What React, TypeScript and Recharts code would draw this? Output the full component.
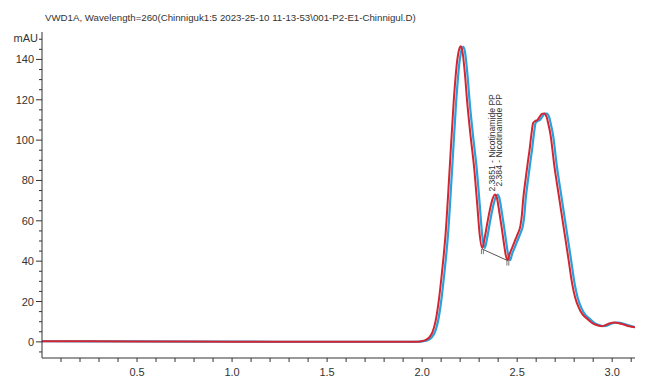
import React from "react";
import { LineChart, Line, XAxis, YAxis, ReferenceLine, ReferenceDot } from "recharts";

const TITLE = "VWD1A, Wavelength=260(Chinniguk1:5 2023-25-10 11-13-53\\001-P2-E1-Chinnigul.D)";
const Y_UNIT = "mAU";
const PEAK_LABEL_1 = "2.3851 - Nicotinamide PP";
const PEAK_LABEL_2 = "2.384 - Nicotinamide PP";
const PEAK_TIME_1 = 2.3851;
const PEAK_TIME_2 = 2.384;
const PEAK_HEIGHT = 73;
const VALLEY_START = { t: 2.316, v: 46 };
const VALLEY_END = { t: 2.45, v: 40.3 };

const xTicks = [0.1, 0.2, 0.3, 0.4, 0.5, 0.6, 0.7, 0.8, 0.9, 1.0, 1.1, 1.2, 1.3, 1.4, 1.5, 1.6, 1.7, 1.8, 1.9, 2.0, 2.1, 2.2, 2.3, 2.4, 2.5, 2.6, 2.7, 2.8, 2.9, 3.0, 3.1];
const yTicks = [-5, 0, 5, 10, 15, 20, 25, 30, 35, 40, 45, 50, 55, 60, 65, 70, 75, 80, 85, 90, 95, 100, 105, 110, 115, 120, 125, 130, 135, 140, 145, 150];

const redTrace = [
  { t: 0, v: 0.3 }, { t: 0.5, v: 0.2 }, { t: 1.0, v: 0.1 }, { t: 1.5, v: 0.0 }, { t: 1.9, v: 0.0 },
  { t: 1.98, v: 0.1 }, { t: 2.0, v: 0.4 }, { t: 2.02, v: 1.0 }, { t: 2.04, v: 2.5 }, { t: 2.055, v: 5 },
  { t: 2.07, v: 10 }, { t: 2.087, v: 20 }, { t: 2.105, v: 35 }, { t: 2.123, v: 53 }, { t: 2.145, v: 86 },
  { t: 2.166, v: 119 }, { t: 2.184, v: 139 }, { t: 2.195, v: 145 }, { t: 2.203, v: 146.5 }, { t: 2.212, v: 144 },
  { t: 2.225, v: 133 }, { t: 2.237, v: 119 }, { t: 2.255, v: 102 }, { t: 2.274, v: 86 }, { t: 2.29, v: 68 },
  { t: 2.303, v: 53 }, { t: 2.316, v: 46.5 }, { t: 2.33, v: 52 }, { t: 2.345, v: 60 }, { t: 2.36, v: 67 },
  { t: 2.373, v: 71.5 }, { t: 2.383, v: 73 }, { t: 2.393, v: 71.5 }, { t: 2.405, v: 65 }, { t: 2.418, v: 57 },
  { t: 2.43, v: 49 }, { t: 2.44, v: 43 }, { t: 2.45, v: 40.5 }, { t: 2.46, v: 43.5 }, { t: 2.475, v: 47 },
  { t: 2.49, v: 50.5 }, { t: 2.505, v: 54 }, { t: 2.517, v: 57.5 }, { t: 2.525, v: 63 }, { t: 2.531, v: 70 },
  { t: 2.545, v: 81 }, { t: 2.556, v: 89 }, { t: 2.565, v: 95 }, { t: 2.575, v: 103 }, { t: 2.584, v: 108.5 },
  { t: 2.595, v: 109.5 }, { t: 2.607, v: 110 }, { t: 2.618, v: 111.5 }, { t: 2.63, v: 113 }, { t: 2.642, v: 113.2 },
  { t: 2.655, v: 111.5 }, { t: 2.664, v: 108 }, { t: 2.675, v: 103 }, { t: 2.696, v: 87 }, { t: 2.72, v: 72 },
  { t: 2.749, v: 54 }, { t: 2.77, v: 41 }, { t: 2.789, v: 29 }, { t: 2.805, v: 22 }, { t: 2.824, v: 17 },
  { t: 2.845, v: 13.5 }, { t: 2.868, v: 11.5 }, { t: 2.9, v: 9 }, { t: 2.93, v: 8 }, { t: 2.947, v: 7.8 },
  { t: 2.97, v: 8.5 }, { t: 2.99, v: 9.3 }, { t: 3.01, v: 9.6 }, { t: 3.03, v: 9.4 }, { t: 3.06, v: 8.6 },
  { t: 3.09, v: 7.7 }, { t: 3.12, v: 7.2 },
];

const blueTrace = [
  { t: 0, v: 0.3 }, { t: 0.5, v: 0.2 }, { t: 1.0, v: 0.1 }, { t: 1.5, v: 0.0 }, { t: 1.9, v: 0.0 },
  { t: 1.993, v: 0.1 }, { t: 2.013, v: 0.4 }, { t: 2.033, v: 1.0 }, { t: 2.053, v: 2.5 }, { t: 2.068, v: 5 },
  { t: 2.083, v: 10 }, { t: 2.1, v: 20 }, { t: 2.118, v: 35 }, { t: 2.136, v: 53 }, { t: 2.158, v: 86 },
  { t: 2.179, v: 119 }, { t: 2.197, v: 139 }, { t: 2.208, v: 145 }, { t: 2.216, v: 146.3 }, { t: 2.225, v: 144 },
  { t: 2.238, v: 133 }, { t: 2.25, v: 119 }, { t: 2.268, v: 102 }, { t: 2.287, v: 86 }, { t: 2.303, v: 68 },
  { t: 2.316, v: 53 }, { t: 2.329, v: 46.5 }, { t: 2.343, v: 52 }, { t: 2.358, v: 60 }, { t: 2.373, v: 67 },
  { t: 2.386, v: 71.5 }, { t: 2.396, v: 73 }, { t: 2.406, v: 71.5 }, { t: 2.418, v: 65 }, { t: 2.431, v: 57 },
  { t: 2.443, v: 49 }, { t: 2.453, v: 43 }, { t: 2.463, v: 40.5 }, { t: 2.473, v: 43.5 }, { t: 2.488, v: 47 },
  { t: 2.503, v: 50.5 }, { t: 2.518, v: 54 }, { t: 2.53, v: 57.5 }, { t: 2.538, v: 63 }, { t: 2.544, v: 70 },
  { t: 2.558, v: 81 }, { t: 2.569, v: 89 }, { t: 2.578, v: 95 }, { t: 2.588, v: 103 }, { t: 2.597, v: 108.5 },
  { t: 2.608, v: 109.5 }, { t: 2.62, v: 110 }, { t: 2.631, v: 111.5 }, { t: 2.643, v: 113 }, { t: 2.655, v: 113.2 },
  { t: 2.668, v: 111.5 }, { t: 2.677, v: 108 }, { t: 2.688, v: 103 }, { t: 2.709, v: 87 }, { t: 2.733, v: 72 },
  { t: 2.762, v: 54 }, { t: 2.783, v: 41 }, { t: 2.802, v: 29 }, { t: 2.818, v: 22 }, { t: 2.837, v: 17 },
  { t: 2.858, v: 13.5 }, { t: 2.881, v: 11.5 }, { t: 2.913, v: 9 }, { t: 2.943, v: 8 }, { t: 2.96, v: 7.8 },
  { t: 2.983, v: 8.5 }, { t: 3.003, v: 9.3 }, { t: 3.023, v: 9.6 }, { t: 3.043, v: 9.4 }, { t: 3.073, v: 8.6 },
  { t: 3.103, v: 7.7 }, { t: 3.12, v: 7.3 },
];

const FONT = "'Liberation Sans', Arial, sans-serif";
const AXIS_COLOR = "#333";
const TEXT_COLOR = "#333";

const XTick = (props: any) => {
  const { x, y, payload } = props;
  const v = payload.value as number;
  const major = Math.abs(v * 2 - Math.round(v * 2)) < 1e-6;
  return (
    <g>
      <line x1={x} x2={x} y1={y} y2={y + 4} stroke={AXIS_COLOR} strokeWidth={1} />
      {major && (
        <text x={x} y={y + 18} textAnchor="middle" fontSize={11} fill={TEXT_COLOR} fontFamily={FONT}>
          {v.toFixed(1)}
        </text>
      )}
    </g>
  );
};

const YTick = (props: any) => {
  const { x, y, payload } = props;
  const v = payload.value as number;
  const major = v % 20 === 0;
  return (
    <g>
      <line x1={x - (major ? 6 : 3)} x2={x} y1={y} y2={y} stroke={AXIS_COLOR} strokeWidth={1} />
      {major && (
        <text x={x - 8} y={y + 4} textAnchor="end" fontSize={11} fill={TEXT_COLOR} fontFamily={FONT}>
          {v}
        </text>
      )}
    </g>
  );
};

const PeakText = (text: string, dx: number, dy: number) => (p: any) => (
  <text
    transform={`translate(${p.cx + dx},${p.cy + dy}) rotate(-90)`}
    fontSize={8.6}
    fill="#333"
    fontFamily={FONT}
    textAnchor="start"
  >
    {text}
  </text>
);

export default function App() {
  return (
    <div style={{ position: "absolute", left: 0, top: 0, width: 646, height: 377, background: "#fff" }}>
      <div
        style={{
          position: "absolute",
          left: 45,
          top: 12,
          fontSize: 9.7,
          fontFamily: FONT,
          color: TEXT_COLOR,
          whiteSpace: "nowrap",
        }}
      >
        {TITLE}
      </div>
      <LineChart width={646} height={377} margin={{ top: 32, right: 11, bottom: 0, left: 0 }}>
        <XAxis
          type="number"
          dataKey="t"
          domain={[0, 3.12]}
          ticks={xTicks}
          interval={0}
          tickSize={0}
          tickMargin={0}
          tick={XTick}
          height={19}
          stroke={AXIS_COLOR}
          allowDataOverflow
        />
        <YAxis
          type="number"
          dataKey="v"
          domain={[-8, 153.6]}
          ticks={yTicks}
          interval={0}
          tickSize={0}
          tickMargin={0}
          tick={YTick}
          width={42}
          stroke={AXIS_COLOR}
          allowDataOverflow
          label={{
            content: (p: any) => (
              <text
                x={p.viewBox.x + p.viewBox.width - 4}
                y={p.viewBox.y + 10}
                textAnchor="end"
                fontSize={11}
                fill={TEXT_COLOR}
                fontFamily={FONT}
              >
                {Y_UNIT}
              </text>
            ),
          }}
        />
        <Line
          data={blueTrace}
          dataKey="v"
          type="monotone"
          stroke="#2aa0dc"
          strokeWidth={2.2}
          dot={false}
          activeDot={false}
          isAnimationActive={false}
        />
        <Line
          data={redTrace}
          dataKey="v"
          type="monotone"
          stroke="#d42630"
          strokeWidth={2}
          dot={false}
          activeDot={false}
          isAnimationActive={false}
        />
        <ReferenceLine
          segment={[{ x: VALLEY_START.t, y: VALLEY_START.v }, { x: VALLEY_END.t, y: VALLEY_END.v }]}
          stroke="#555"
          strokeWidth={1}
        />
        <ReferenceLine
          segment={[{ x: VALLEY_START.t - 0.004, y: VALLEY_START.v }, { x: VALLEY_START.t - 0.004, y: VALLEY_START.v - 2.5 }]}
          stroke="#555"
          strokeWidth={0.8}
        />
        <ReferenceLine
          segment={[{ x: VALLEY_START.t + 0.006, y: VALLEY_START.v }, { x: VALLEY_START.t + 0.006, y: VALLEY_START.v - 2.5 }]}
          stroke="#555"
          strokeWidth={0.8}
        />
        <ReferenceLine
          segment={[{ x: VALLEY_END.t - 0.004, y: VALLEY_END.v }, { x: VALLEY_END.t - 0.004, y: VALLEY_END.v - 2.5 }]}
          stroke="#555"
          strokeWidth={0.8}
        />
        <ReferenceLine
          segment={[{ x: VALLEY_END.t + 0.006, y: VALLEY_END.v }, { x: VALLEY_END.t + 0.006, y: VALLEY_END.v - 2.5 }]}
          stroke="#555"
          strokeWidth={0.8}
        />
        <ReferenceDot x={PEAK_TIME_1} y={PEAK_HEIGHT} r={0} shape={PeakText(PEAK_LABEL_1, 0, -3)} />
        <ReferenceDot x={PEAK_TIME_2} y={PEAK_HEIGHT} r={0} shape={PeakText(PEAK_LABEL_2, 7, -8)} />
      </LineChart>
    </div>
  );
}
